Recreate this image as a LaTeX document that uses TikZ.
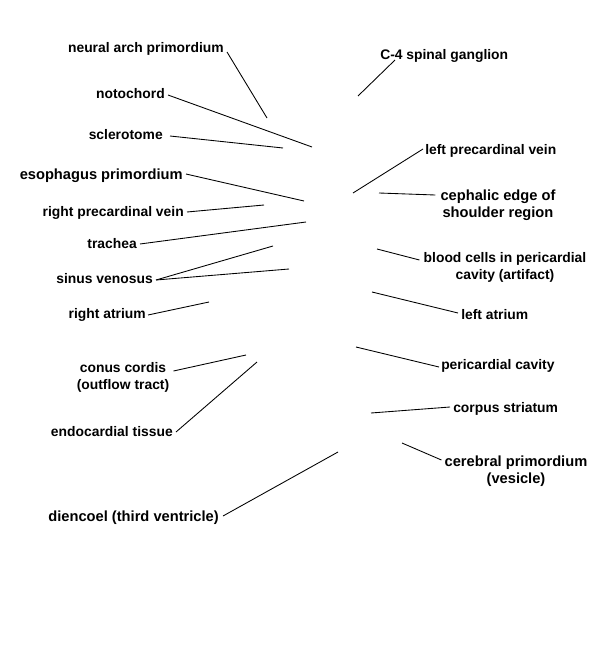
\documentclass[tikz,border=0pt]{standalone}
\usepackage{fontspec}
\setmainfont{Liberation Sans}
\usetikzlibrary{calc}
\begin{document}
\begin{tikzpicture}[x=0.75pt,y=-0.75pt,
  lab/.style={inner sep=0pt, font=\bfseries\fontsize{10.4}{12.75}\selectfont, text height=10pt, text depth=2.2pt},
  labbig/.style={inner sep=0pt, font=\bfseries\fontsize{11}{13}\selectfont, text height=10.4pt, text depth=2.3pt},
  labtwo/.style={inner sep=0pt, align=center, font=\bfseries\fontsize{10.4}{12.75}\selectfont},
  labtwobig/.style={inner sep=0pt, align=center, font=\bfseries\fontsize{11}{13}\selectfont},
  ln/.style={line width=0.65pt, black}]
\fill[white] (0,0) rectangle (600,646);
\useasboundingbox (0,0) rectangle (600,646);

% left labels
\node[lab, anchor=east] (neural) at (224,47) {neural arch primordium};
\node[lab, anchor=east] (noto) at (165,93) {notochord};
\node[lab, anchor=east] (scler) at (163,134) {sclerotome};
\node[labbig, anchor=east] (eso) at (183,174) {esophagus primordium};
\node[lab, anchor=east] (rpv) at (184,211) {right precardinal vein};
\node[lab, anchor=east] (trach) at (137,243) {trachea};
\node[lab, anchor=east] (sinus) at (153,278) {sinus venosus};
\node[lab, anchor=east] (ratr) at (146,313) {right atrium};
\node[labtwo] (conus) at (123,377.5) {conus cordis\\(outflow tract)};
\node[lab, anchor=east] (endo) at (173,431) {endocardial tissue};
\node[labbig, anchor=east] (dien) at (219,516) {diencoel (third ventricle)};

% right labels
\node[lab, anchor=west] (cfour) at (380,54) {C-4 spinal ganglion};
\node[lab, anchor=west] (lpv) at (425,149) {left precardinal vein};
\node[labtwobig] (ceph) at (498,205) {cephalic edge of\\shoulder region};
\node[labtwo] (blood) at (505,267.5) {blood cells in pericardial\\cavity (artifact)};
\node[lab, anchor=west] (latr) at (461,314) {left atrium};
\node[lab, anchor=west] (pcav) at (441,364) {pericardial cavity};
\node[lab, anchor=west] (corp) at (453,407) {corpus striatum};
\node[labtwobig] (cer) at (516,471) {cerebral primordium\\(vesicle)};

% pointer ends
\coordinate (neuralE) at (267,118);
\coordinate (notoE) at (312,147);
\coordinate (sclerE) at (283,148);
\coordinate (esoE) at (304,201);
\coordinate (rpvE) at (264,205);
\coordinate (trachE) at (306,222);
\coordinate (sinusA) at (273,246);
\coordinate (sinusB) at (289,269);
\coordinate (ratrE) at (209,302);
\coordinate (conusE) at (246,355);
\coordinate (endoE) at (257,362);
\coordinate (dienE) at (338,452);
\coordinate (cfourE) at (358,96);
\coordinate (lpvE) at (353,193);
\coordinate (cephE) at (379,193);
\coordinate (bloodE) at (377,249);
\coordinate (latrE) at (372,292);
\coordinate (pcavE) at (356,347);
\coordinate (corpE) at (371,413);
\coordinate (cerE) at (402,443);

% connectors
\draw[ln] ($(neural.east)+(3,5)$) -- (neuralE);
\draw[ln] ($(noto.east)+(3,2)$) -- (notoE);
\draw[ln] ($(scler.east)+(7,2)$) -- (sclerE);
\draw[ln] ($(eso.east)+(3,0)$) -- (esoE);
\draw[ln] ($(rpv.east)+(3,1)$) -- (rpvE);
\draw[ln] ($(trach.east)+(3,1)$) -- (trachE);
\draw[ln] ($(sinus.east)+(3,2)$) -- (sinusA);
\draw[ln] ($(sinus.east)+(3,2)$) -- (sinusB);
\draw[ln] ($(ratr.east)+(2,2)$) -- (ratrE);
\draw[ln] ($(conus.east)+(4,-6.5)$) -- (conusE);
\draw[ln] ($(endo.east)+(3,1)$) -- (endoE);
\draw[ln] ($(dien.east)+(4,0)$) -- (dienE);
\draw[ln] ($(cfour.west)+(15,6)$) -- (cfourE);
\draw[ln] ($(lpv.west)+(-2,0)$) -- (lpvE);
\draw[ln] ($(ceph.west)+(-5,-10)$) -- (cephE);
\draw[ln] ($(blood.west)+(-4,-7.5)$) -- (bloodE);
\draw[ln] ($(latr.west)+(-3,-1)$) -- (latrE);
\draw[ln] ($(pcav.west)+(-2,3)$) -- (pcavE);
\draw[ln] ($(corp.west)+(-3,0)$) -- (corpE);
\draw[ln] ($(cer.west)+(-3,-11)$) -- (cerE);
\end{tikzpicture}
\end{document}
